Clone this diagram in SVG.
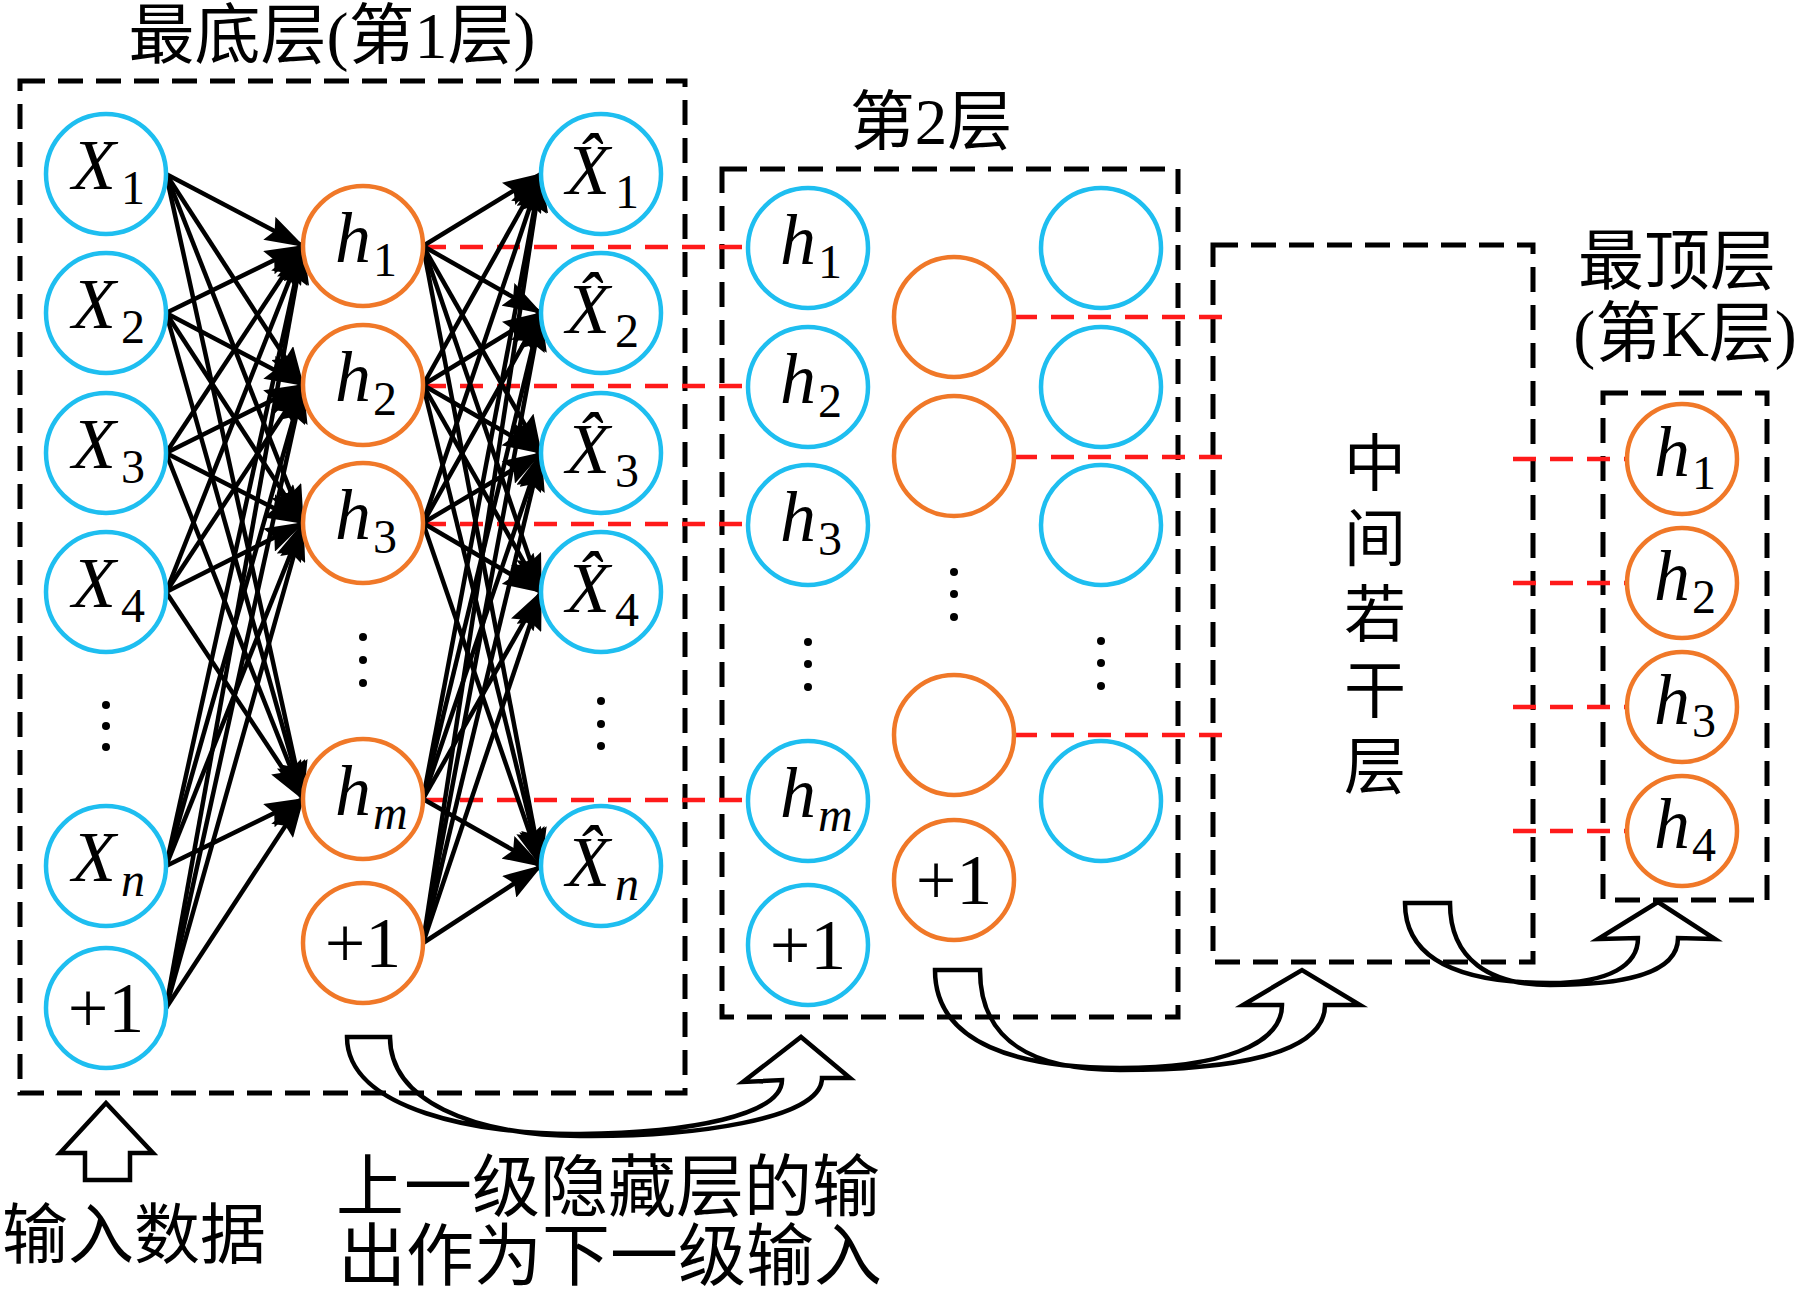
<svg xmlns="http://www.w3.org/2000/svg" width="1796" height="1295" viewBox="0 0 1796 1295">
<defs>
<style>
.box{fill:none;stroke:#000;stroke-width:5;stroke-dasharray:25 13}
.red{fill:none;stroke:#FF1A1A;stroke-width:4.5;stroke-dasharray:23 14}
.cyn{fill:#fff;stroke:#1EBEF0;stroke-width:4.5}
.org{fill:#fff;stroke:#F07828;stroke-width:4.5}
.lab{font-family:"Liberation Serif",serif;font-size:72px;fill:#000}
.it{font-style:italic}
.sub{font-size:48px}
.pl{text-anchor:middle}
.ed path{fill:none;stroke:#000;stroke-width:4.5;marker-end:url(#ah)}
.big{fill:none;stroke:#000;stroke-width:4.5;stroke-linejoin:miter}
.cjk{font-family:"Liberation Serif","Noto Sans CJK SC",serif;fill:#000}
.dot{fill:#000}
</style>
<marker id="ah" markerUnits="userSpaceOnUse" markerWidth="40" markerHeight="26" refX="38" refY="13" orient="auto" viewBox="0 0 40 26">
<path d="M0,0 L40,13 L0,26 L6,13 Z" fill="#000"/>
</marker>
</defs>
<rect width="1796" height="1295" fill="#fff"/>

<g id="boxes">
<rect id="box1" class="box" x="20" y="81" width="665" height="1012" stroke-width="5.5"/>
<rect id="box2" class="box" x="722" y="169" width="456" height="848"/>
<rect id="box3" class="box" x="1213" y="245" width="320" height="717"/>
<rect id="box4" class="box" x="1603" y="393" width="164" height="507"/>
</g>

<g id="titles" class="cjk">
<text x="332" y="58" font-size="66" text-anchor="middle">最底层(第1层)</text>
<text x="931" y="144" font-size="65" text-anchor="middle">第2层</text>
<text x="1677" y="284" font-size="66" text-anchor="middle">最顶层</text>
<text x="1685" y="356" font-size="66" text-anchor="middle">(第K层)</text>
<g font-size="62" text-anchor="middle">
<text x="1375" y="486">中</text>
<text x="1375" y="561">间</text>
<text x="1375" y="637">若</text>
<text x="1375" y="713">干</text>
<text x="1375" y="789">层</text>
</g>
<text x="2" y="1258" font-size="66">输入数据</text>
<text x="336" y="1211" font-size="68">上一级隐藏层的输</text>
<text x="338" y="1280" font-size="68">出作为下一级输入</text>
</g>

<g id="connectors">
<g class="red">
<path d="M423,247H748"/>
<path d="M423,386H748"/>
<path d="M423,524H748"/>
<path d="M423,800H748"/>
<path d="M1014,317H1229"/>
<path d="M1014,457H1229"/>
<path d="M1014,735H1229"/>
<path d="M1513,459H1627"/>
<path d="M1513,583H1627"/>
<path d="M1513,707H1627"/>
<path d="M1513,831H1627"/>
</g>
<g class="ed">
<path d="M166,174L303,246"/><path d="M166,174L303,385"/><path d="M166,174L303,523"/><path d="M166,174L303,799"/>
<path d="M166,313L303,246"/><path d="M166,313L303,385"/><path d="M166,313L303,523"/><path d="M166,313L303,799"/>
<path d="M166,453L303,246"/><path d="M166,453L303,385"/><path d="M166,453L303,523"/><path d="M166,453L303,799"/>
<path d="M166,592L303,246"/><path d="M166,592L303,385"/><path d="M166,592L303,523"/><path d="M166,592L303,799"/>
<path d="M166,866L303,246"/><path d="M166,866L303,385"/><path d="M166,866L303,523"/><path d="M166,866L303,799"/>
<path d="M166,1008L303,246"/><path d="M166,1008L303,385"/><path d="M166,1008L303,523"/><path d="M166,1008L303,799"/>
<path d="M423,246L541,174"/><path d="M423,246L541,313"/><path d="M423,246L541,453"/><path d="M423,246L541,592"/><path d="M423,246L541,866"/>
<path d="M423,385L541,174"/><path d="M423,385L541,313"/><path d="M423,385L541,453"/><path d="M423,385L541,592"/><path d="M423,385L541,866"/>
<path d="M423,523L541,174"/><path d="M423,523L541,313"/><path d="M423,523L541,453"/><path d="M423,523L541,592"/><path d="M423,523L541,866"/>
<path d="M423,799L541,174"/><path d="M423,799L541,313"/><path d="M423,799L541,453"/><path d="M423,799L541,592"/><path d="M423,799L541,866"/>
<path d="M423,943L541,174"/><path d="M423,943L541,313"/><path d="M423,943L541,453"/><path d="M423,943L541,592"/><path d="M423,943L541,866"/>
</g>
<path id="arrow-input" class="big" fill="#fff" d="M106,1103 L153,1153 L130,1153 L130,1180 L85,1180 L85,1153 L60,1153 Z"/>
<path id="arrow-1-2" class="big" d="M347,1037 C347,1110 480,1135 580,1134 C690,1133 782,1115 782,1080 L743,1082 L801,1037 L850,1078 L822,1078 C822,1120 690,1137 580,1136 C470,1135 390,1100 390,1037 Z"/>
<path id="arrow-2-3" class="big" d="M935,970 C935,1045 1020,1068 1120,1068 C1220,1068 1282,1045 1282,1005 L1243,1005 L1302,970 L1360,1005 L1325,1005 C1325,1055 1230,1070 1120,1070 C1030,1070 980,1040 980,970 Z"/>
<path id="arrow-3-4" class="big" d="M1405,903 C1405,965 1470,983 1550,983 C1610,983 1638,965 1638,938 L1598,939 L1658,902 L1715,939 L1678,938 C1678,975 1620,985 1550,985 C1490,985 1450,960 1450,903 Z"/>
</g>

<g id="layer1-input">
<g id="x1"><circle class="cyn" cx="106" cy="174" r="60"/><text class="lab" x="72" y="189"><tspan class="it">X</tspan><tspan class="sub" dx="5" dy="15">1</tspan></text></g>
<g id="x2"><circle class="cyn" cx="106" cy="313" r="60"/><text class="lab" x="72" y="328"><tspan class="it">X</tspan><tspan class="sub" dx="5" dy="15">2</tspan></text></g>
<g id="x3"><circle class="cyn" cx="106" cy="453" r="60"/><text class="lab" x="72" y="468"><tspan class="it">X</tspan><tspan class="sub" dx="5" dy="15">3</tspan></text></g>
<g id="x4"><circle class="cyn" cx="106" cy="592" r="60"/><text class="lab" x="72" y="607"><tspan class="it">X</tspan><tspan class="sub" dx="5" dy="15">4</tspan></text></g>
<g id="x-dots"><circle class="dot" cx="106" cy="705" r="4"/><circle class="dot" cx="106" cy="726" r="4"/><circle class="dot" cx="106" cy="747" r="4"/></g>
<g id="xn"><circle class="cyn" cx="106" cy="866" r="60"/><text class="lab" x="72" y="881"><tspan class="it">X</tspan><tspan class="sub it" dx="5" dy="15">n</tspan></text></g>
<g id="x-bias"><circle class="cyn" cx="106" cy="1008" r="60"/><text class="lab pl" x="106" y="1032" font-size="70">+1</text></g>
</g>

<g id="layer1-hidden">
<g id="l1h1"><circle class="org" cx="363" cy="246" r="60"/><text class="lab" x="335" y="262"><tspan class="it">h</tspan><tspan class="sub" dx="2" dy="14">1</tspan></text></g>
<g id="l1h2"><circle class="org" cx="363" cy="385" r="60"/><text class="lab" x="335" y="401"><tspan class="it">h</tspan><tspan class="sub" dx="2" dy="14">2</tspan></text></g>
<g id="l1h3"><circle class="org" cx="363" cy="523" r="60"/><text class="lab" x="335" y="539"><tspan class="it">h</tspan><tspan class="sub" dx="2" dy="14">3</tspan></text></g>
<g id="l1h-dots"><circle class="dot" cx="363" cy="637" r="4"/><circle class="dot" cx="363" cy="660" r="4"/><circle class="dot" cx="363" cy="683" r="4"/></g>
<g id="l1hm"><circle class="org" cx="363" cy="799" r="60"/><text class="lab" x="335" y="815"><tspan class="it">h</tspan><tspan class="sub it" dx="2" dy="14">m</tspan></text></g>
<g id="l1h-bias"><circle class="org" cx="363" cy="943" r="60"/><text class="lab pl" x="363" y="967" font-size="70">+1</text></g>
</g>

<g id="layer1-output">
<g id="xh1"><circle class="cyn" cx="601" cy="174" r="60"/><text class="lab" x="566" y="194"><tspan class="it">X̂</tspan><tspan class="sub" dx="5" dy="14">1</tspan></text></g>
<g id="xh2"><circle class="cyn" cx="601" cy="313" r="60"/><text class="lab" x="566" y="333"><tspan class="it">X̂</tspan><tspan class="sub" dx="5" dy="14">2</tspan></text></g>
<g id="xh3"><circle class="cyn" cx="601" cy="453" r="60"/><text class="lab" x="566" y="473"><tspan class="it">X̂</tspan><tspan class="sub" dx="5" dy="14">3</tspan></text></g>
<g id="xh4"><circle class="cyn" cx="601" cy="592" r="60"/><text class="lab" x="566" y="612"><tspan class="it">X̂</tspan><tspan class="sub" dx="5" dy="14">4</tspan></text></g>
<g id="xh-dots"><circle class="dot" cx="601" cy="701" r="4"/><circle class="dot" cx="601" cy="724" r="4"/><circle class="dot" cx="601" cy="746" r="4"/></g>
<g id="xhn"><circle class="cyn" cx="601" cy="866" r="60"/><text class="lab" x="566" y="886"><tspan class="it">X̂</tspan><tspan class="sub it" dx="5" dy="14">n</tspan></text></g>
</g>

<g id="layer2-input">
<g id="l2h1"><circle class="cyn" cx="808" cy="248" r="60"/><text class="lab" x="780" y="264"><tspan class="it">h</tspan><tspan class="sub" dx="2" dy="14">1</tspan></text></g>
<g id="l2h2"><circle class="cyn" cx="808" cy="387" r="60"/><text class="lab" x="780" y="403"><tspan class="it">h</tspan><tspan class="sub" dx="2" dy="14">2</tspan></text></g>
<g id="l2h3"><circle class="cyn" cx="808" cy="525" r="60"/><text class="lab" x="780" y="541"><tspan class="it">h</tspan><tspan class="sub" dx="2" dy="14">3</tspan></text></g>
<g id="l2h-dots"><circle class="dot" cx="808" cy="642" r="4"/><circle class="dot" cx="808" cy="664" r="4"/><circle class="dot" cx="808" cy="687" r="4"/></g>
<g id="l2hm"><circle class="cyn" cx="808" cy="801" r="60"/><text class="lab" x="780" y="817"><tspan class="it">h</tspan><tspan class="sub it" dx="2" dy="14">m</tspan></text></g>
<g id="l2h-bias"><circle class="cyn" cx="808" cy="945" r="60"/><text class="lab pl" x="808" y="969" font-size="70">+1</text></g>
</g>

<g id="layer2-hidden">
<g id="l2o1"><circle class="org" cx="954" cy="317" r="60"/></g>
<g id="l2o2"><circle class="org" cx="954" cy="456" r="60"/></g>
<g id="l2o-dots"><circle class="dot" cx="954" cy="572" r="4"/><circle class="dot" cx="954" cy="594" r="4"/><circle class="dot" cx="954" cy="617" r="4"/></g>
<g id="l2o3"><circle class="org" cx="954" cy="735" r="60"/></g>
<g id="l2o-bias"><circle class="org" cx="954" cy="880" r="60"/><text class="lab pl" x="954" y="904" font-size="70">+1</text></g>
</g>

<g id="layer2-output">
<g id="l2c1"><circle class="cyn" cx="1101" cy="248" r="60"/></g>
<g id="l2c2"><circle class="cyn" cx="1101" cy="387" r="60"/></g>
<g id="l2c3"><circle class="cyn" cx="1101" cy="525" r="60"/></g>
<g id="l2c-dots"><circle class="dot" cx="1101" cy="641" r="4"/><circle class="dot" cx="1101" cy="663" r="4"/><circle class="dot" cx="1101" cy="686" r="4"/></g>
<g id="l2c4"><circle class="cyn" cx="1101" cy="801" r="60"/></g>
</g>

<g id="layerK">
<g id="kh1"><circle class="org" cx="1682" cy="459" r="55"/><text class="lab" x="1654" y="476"><tspan class="it">h</tspan><tspan class="sub" dx="2" dy="13">1</tspan></text></g>
<g id="kh2"><circle class="org" cx="1682" cy="583" r="55"/><text class="lab" x="1654" y="600"><tspan class="it">h</tspan><tspan class="sub" dx="2" dy="13">2</tspan></text></g>
<g id="kh3"><circle class="org" cx="1682" cy="707" r="55"/><text class="lab" x="1654" y="724"><tspan class="it">h</tspan><tspan class="sub" dx="2" dy="13">3</tspan></text></g>
<g id="kh4"><circle class="org" cx="1682" cy="831" r="55"/><text class="lab" x="1654" y="848"><tspan class="it">h</tspan><tspan class="sub" dx="2" dy="13">4</tspan></text></g>
</g>
</svg>
